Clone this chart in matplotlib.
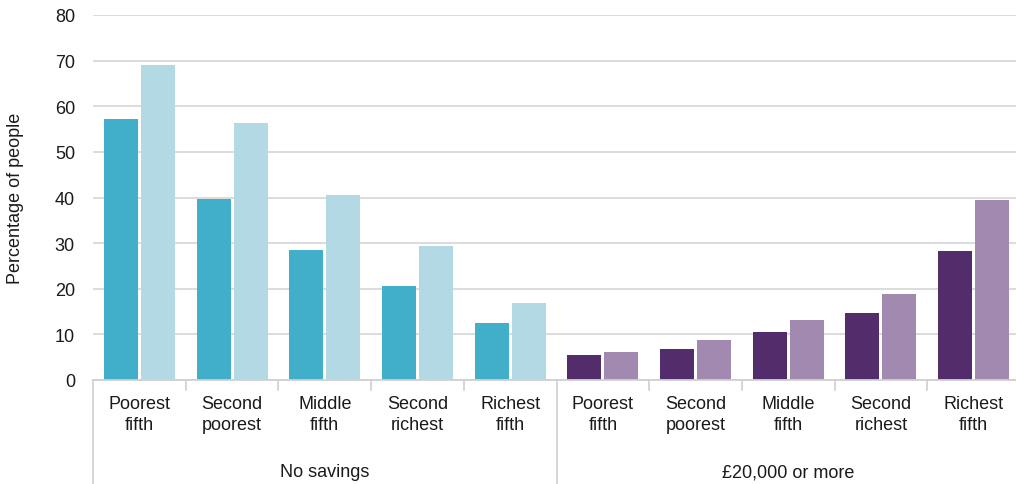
import matplotlib
matplotlib.use("Agg")
import matplotlib.pyplot as plt
from matplotlib.lines import Line2D

plt.rcParams['font.family'] = ['Liberation Sans', 'DejaVu Sans']

categories = ["Poorest\nfifth", "Second\npoorest", "Middle\nfifth", "Second\nrichest", "Richest\nfifth"]
groups = ["No savings", "£20,000 or more"]
no_savings_a = [57.1, 39.6, 28.4, 20.7, 12.6]
no_savings_b = [69.0, 56.3, 40.5, 29.3, 16.8]
savings20k_a = [5.4, 6.9, 10.5, 14.6, 28.2]
savings20k_b = [6.1, 8.7, 13.1, 18.8, 39.4]
yticks = [0, 10, 20, 30, 40, 50, 60, 70, 80]

colors = {"teal": "#41AFC9", "lightblue": "#B3D9E4", "purple": "#532C6C", "lilac": "#A289AF"}
txt = "#1a1a1a"
FS = 13

W, H = 1016, 485
fig = plt.figure(figsize=(W / 100, H / 100), dpi=100)
left_px, right_px, top_px, base_px = 93, 1016, 16, 381
ax = fig.add_axes([left_px / W, (H - base_px) / H, (right_px - left_px) / W, (base_px - top_px) / H])

cat_px = 92.7
bw = 34 / cat_px
off = (34 + 3) / 2 / cat_px
n = len(categories)
x1 = list(range(n))
x2 = [i + n for i in range(n)]
ax.bar([x - off for x in x1], no_savings_a, width=bw, color=colors["teal"], zorder=3)
ax.bar([x + off for x in x1], no_savings_b, width=bw, color=colors["lightblue"], zorder=3)
ax.bar([x - off for x in x2], savings20k_a, width=bw, color=colors["purple"], zorder=3)
ax.bar([x + off for x in x2], savings20k_b, width=bw, color=colors["lilac"], zorder=3)

ax.set_ylim(0, 80)
ax.set_xlim(-0.5, -0.5 + (right_px - left_px) / cat_px)
ax.set_yticks(yticks)
ax.set_yticklabels([str(v) for v in yticks], fontsize=FS, color=txt)
ax.tick_params(axis='y', length=0, pad=13)
ax.set_xticks([])
ax.grid(axis='y', color="#D9D9D9", linewidth=1.3, zorder=0)
for s in ["top", "right", "left"]:
    ax.spines[s].set_visible(False)
ax.spines["bottom"].set_color("#D0D0D0")
ax.spines["bottom"].set_linewidth(1.3)
ax.spines["bottom"].set_zorder(4)

fig.text(16 / W, 1 - 198.5 / H, "Percentage of people", rotation=90, ha='center', va='center',
         fontsize=FS, color=txt)

trans = ax.get_xaxis_transform()
axh = base_px - top_px
def yfrac(px_below):
    return -px_below / axh

all_labels = categories + categories
for i, lab in enumerate(all_labels):
    ax.text(i, yfrac(15), lab, transform=trans, ha='center', va='top', fontsize=FS,
            color=txt, linespacing=1.33)

# separators
for b in range(1, 2 * n):
    if b == n:
        continue
    ax.add_line(Line2D([b - 0.5, b - 0.5], [0, yfrac(10)], transform=trans, color="#D0D0D0",
                       linewidth=1.2, clip_on=False))
for b in [0, n, 2 * n]:
    ax.add_line(Line2D([b - 0.5, b - 0.5], [0, yfrac(H - base_px)], transform=trans, color="#D0D0D0",
                       linewidth=1.2, clip_on=False))

ax.text((n - 1) / 2, yfrac(92), groups[0], transform=trans, ha='center', va='center', fontsize=FS, color=txt)
ax.text(n + (n - 1) / 2, yfrac(92), groups[1], transform=trans, ha='center', va='center', fontsize=FS, color=txt)

fig.savefig("out.png", dpi=100)
